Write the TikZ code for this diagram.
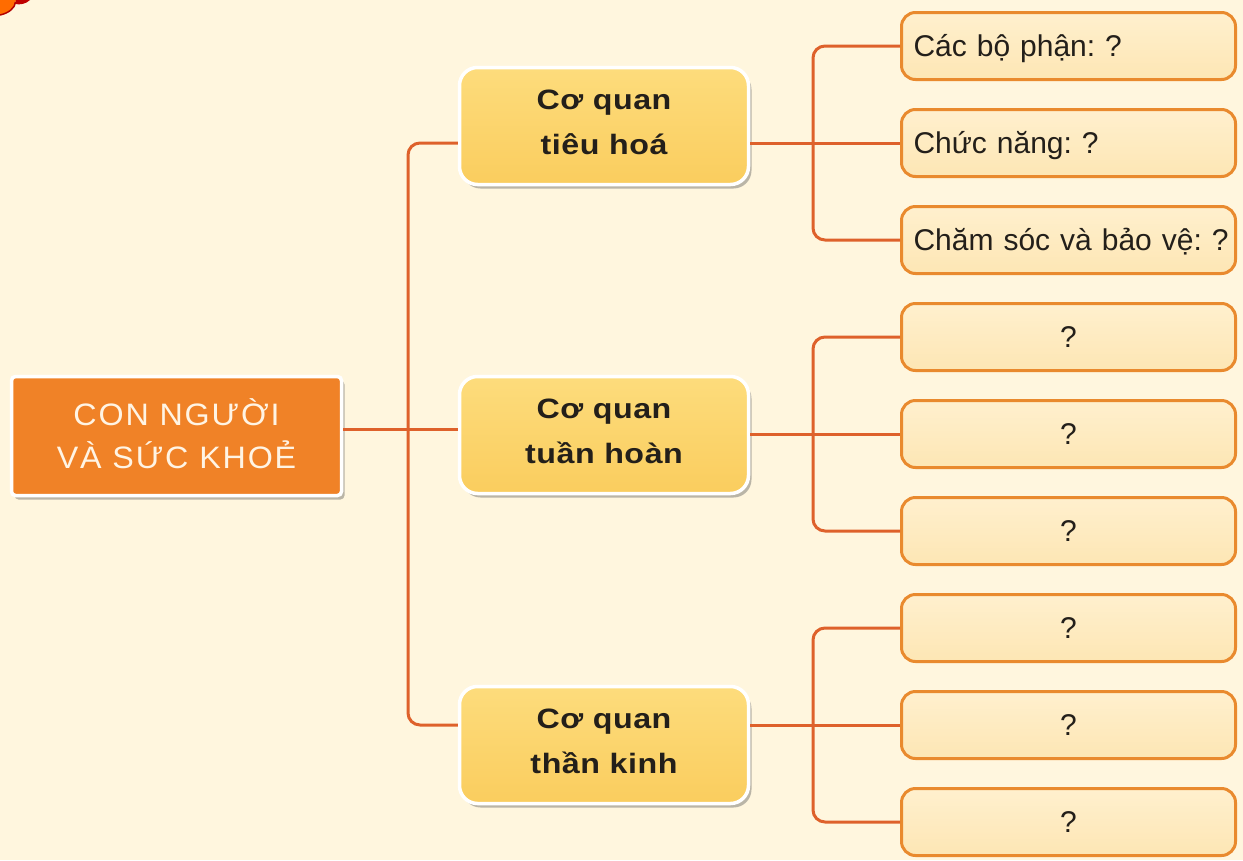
\documentclass[tikz,border=0pt]{standalone}
\usepackage{fontspec}
\setmainfont{Liberation Sans}
\newfontfamily\rootfont[LetterSpace=6, FakeStretch=1.04]{Liberation Sans}
\newfontfamily\organfont[LetterSpace=2, FakeStretch=1.15]{Liberation Sans}
\usetikzlibrary{shadows}

\definecolor{paper}{HTML}{FFF6DE}
\definecolor{rootfill}{HTML}{F08227}
\definecolor{roottext}{HTML}{FFF4E4}
\definecolor{organtop}{HTML}{FDDC7C}
\definecolor{organbot}{HTML}{FACD5E}
\definecolor{leaftop}{HTML}{FFF0CE}
\definecolor{leafbot}{HTML}{FDE6B4}
\definecolor{leafline}{HTML}{E98A2E}
\definecolor{wire}{HTML}{DE612B}
\definecolor{inktext}{HTML}{231F1A}

\tikzset{
  rootbox/.style={draw=white, line width=3.5pt, fill=rootfill, rounded corners=4pt,
    minimum width=330pt, minimum height=119pt, inner sep=0pt,
    drop shadow={shadow xshift=3pt, shadow yshift=-4pt, opacity=.45, fill=black!60},
    text=roottext, align=center,
    font=\rootfont\fontsize{31}{43}\selectfont,
    text height=65pt, text depth=1pt},
  organbox/.style={draw=white, line width=3.5pt, top color=organtop, bottom color=organbot,
    rounded corners=18pt, minimum width=289pt, minimum height=117pt, inner sep=0pt,
    drop shadow={shadow xshift=3pt, shadow yshift=-4pt, opacity=.45, fill=black!60},
    text=inktext, align=center,
    font=\organfont\bfseries\fontsize{28}{45}\selectfont,
    text height=65pt, text depth=9pt},
  leafbox/.style={draw=leafline, line width=3pt, top color=leaftop, bottom color=leafbot,
    rounded corners=14pt, minimum width=334pt, minimum height=67pt,
    inner xsep=12pt, inner ysep=0pt, text=inktext, text width=310pt,
    execute at begin node=\frenchspacing,
    font=\fontsize{30}{34}\selectfont, text height=21.5pt, text depth=0pt},
  leafleft/.style={leafbox, align=left},
  leafmid/.style={leafbox, align=center},
  wireline/.style={draw=wire, line width=3pt, rounded corners=12pt},
}

\begin{document}
\begin{tikzpicture}[x=1pt, y=-1pt]
  % page
  \fill[paper] (0,0) rectangle (1243,860);
  \useasboundingbox (0,0) rectangle (1243,860);

  % corner ornament, cut by the page edge
  \fill[orange!85!red] (0,0) -- (16,0) .. controls (15,8) and (9,13) .. (0,15) -- cycle;
  \fill[red!75!black] (16,0) -- (30,0) .. controls (26,4) and (20,5) .. (15,4) -- cycle;
  \draw[red!70!black, line width=1.5pt] (15.5,2) .. controls (15,8) and (9,13) .. (0,15);

  % main topic
  \node[rootbox] (root) at (176.5,436) {CON NGƯỜI\\VÀ SỨC KHOẺ};

  % organs
  \node[organbox] (mid1) at (604,126) {Cơ quan\\tiêu hoá};
  \node[organbox] (mid2) at (604,435) {Cơ quan\\tuần hoàn};
  \node[organbox] (mid3) at (604,745) {Cơ quan\\thần kinh};

  % detail boxes
  \node[leafleft] (l1) at (1068.5,46)  {\mbox{Các bộ phận: ?}};
  \node[leafleft] (l2) at (1068.5,143) {\mbox{Chức năng: ?}};
  \node[leafleft] (l3) at (1068.5,240) {\mbox{Chăm sóc và bảo vệ: ?}};
  \node[leafmid]  (l4) at (1068.5,337) {?};
  \node[leafmid]  (l5) at (1068.5,434) {?};
  \node[leafmid]  (l6) at (1068.5,531) {?};
  \node[leafmid]  (l7) at (1068.5,628) {?};
  \node[leafmid]  (l8) at (1068.5,725) {?};
  \node[leafmid]  (l9) at (1068.5,822) {?};

  % junction points of the connectors
  \coordinate (trunk) at (408,429);
  \coordinate (fork1) at (813,143);
  \coordinate (fork2) at (813,434);
  \coordinate (fork3) at (813,725);

  % root to organs
  \draw[wireline] (mid1.west |- l2) -| (trunk) |- (mid3.west |- l8);
  \draw[wireline] (root.east |- trunk) -- (mid2.west |- trunk);

  % organs to details
  \draw[wireline] (mid1.east |- l2) -- (l2.west);
  \draw[wireline] (l1.west) -| (fork1) |- (l3.west);
  \draw[wireline] (mid2.east |- l5) -- (l5.west);
  \draw[wireline] (l4.west) -| (fork2) |- (l6.west);
  \draw[wireline] (mid3.east |- l8) -- (l8.west);
  \draw[wireline] (l7.west) -| (fork3) |- (l9.west);
\end{tikzpicture}
\end{document}
